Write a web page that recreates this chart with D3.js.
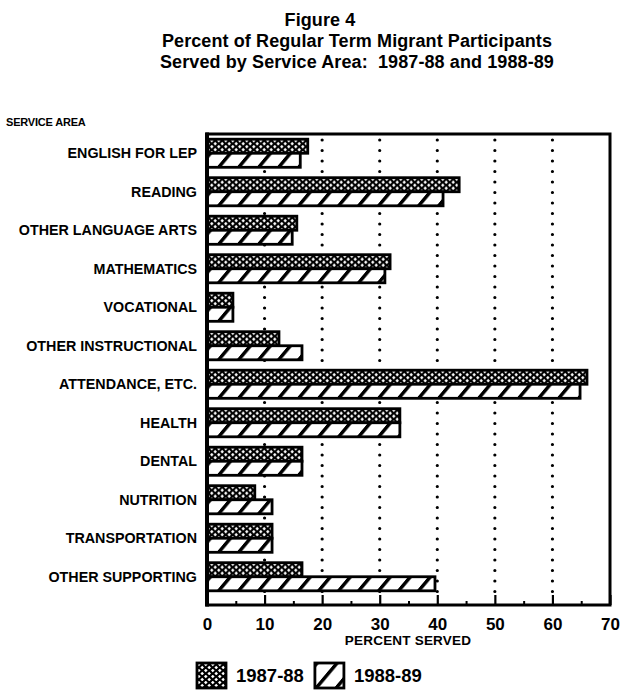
<!DOCTYPE html>
<html>
<head>
<meta charset="utf-8">
<script src="https://cdn.jsdelivr.net/npm/d3@7"></script>
<style>
  body { margin: 0; background: #fff; }
  text { font-family: "Liberation Sans", Arial, sans-serif; font-weight: bold; fill: #000; }
</style>
</head>
<body>
<div id="chart"></div>
<script>

// chart data
var titleLines = ["Figure 4",
                  "Percent of Regular Term Migrant Participants",
                  "Served by Service Area:  1987-88 and 1988-89"];
var categories = ["ENGLISH FOR LEP", "READING", "OTHER LANGUAGE ARTS", "MATHEMATICS",
                  "VOCATIONAL", "OTHER INSTRUCTIONAL", "ATTENDANCE, ETC.", "HEALTH",
                  "DENTAL", "NUTRITION", "TRANSPORTATION", "OTHER SUPPORTING"];
var served8788 = [17.5, 43.8, 15.6, 31.8, 4.5, 12.5, 66.0, 33.5, 16.5, 8.3, 11.3, 16.5];
var served8889 = [16.2, 41.0, 14.8, 30.9, 4.5, 16.5, 64.8, 33.5, 16.5, 11.3, 11.3, 39.6];
var seriesNames = ["1987-88", "1988-89"];
var xTicks = [0, 10, 20, 30, 40, 50, 60, 70];
var xMinorTicks = [5, 15, 25, 35, 45, 55, 65];

var width = 621,
    height = 693,
    plot = {left: 207, right: 610, top: 134, bandBottom: 596, bottom: 605},
    fills = ["url(#cross)", "url(#hatch)"];

var svg = d3.select("#chart").append("svg")
    .attr("width", width)
    .attr("height", height);

svg.append("rect").attr("width", width).attr("height", height).attr("fill", "#fff");

// patterns
var defs = svg.append("defs");

var cross = defs.append("pattern")
    .attr("id", "cross")
    .attr("patternUnits", "userSpaceOnUse")
    .attr("width", 7)
    .attr("height", 6);
cross.append("rect").attr("width", 7).attr("height", 6).attr("fill", "#000");
cross.append("path")
    .attr("d", "M1.75,-0.3L3.6,1.5L1.75,3.3L-0.1,1.5Z M5.25,2.7L7.1,4.5L5.25,6.3L3.4,4.5Z")
    .attr("fill", "#fff");

var hatch = defs.append("pattern")
    .attr("id", "hatch")
    .attr("patternUnits", "userSpaceOnUse")
    .attr("width", 20)
    .attr("height", 20)
    .attr("patternTransform", "skewX(-40)");
hatch.append("rect").attr("width", 20).attr("height", 20).attr("fill", "#fff");
hatch.append("rect").attr("width", 4.5).attr("height", 20).attr("fill", "#000");

// scales
var x = d3.scaleLinear().domain([0, 70]).range([plot.left, plot.right]);
var y = d3.scaleBand().domain(categories)
    .range([plot.top, plot.bandBottom])
    .paddingInner(0.27)
    .paddingOuter(0.135);
var ySub = d3.scaleBand().domain(seriesNames).range([0, y.bandwidth()]);

// title
svg.append("g").selectAll("text")
    .data(titleLines)
    .enter().append("text")
    .attr("x", function (d, i) { return i === 0 ? 320 : 357; })
    .attr("y", function (d, i) { return 26 + i * 21; })
    .attr("text-anchor", "middle")
    .style("font-size", "18px")
    .style("letter-spacing", "0.1px")
    .style("white-space", "pre")
    .text(function (d) { return d; });

svg.append("text")
    .attr("x", 6)
    .attr("y", 126)
    .style("font-size", "11px")
    .style("letter-spacing", "-0.2px")
    .text("SERVICE AREA");

// dotted grid
svg.append("g").selectAll("line")
    .data(xTicks.filter(function (d) { return d > 0 && d < 70; }))
    .enter().append("line")
    .attr("x1", x).attr("x2", x)
    .attr("y1", plot.top + 6)
    .attr("y2", plot.bottom - 4)
    .attr("stroke", "#000")
    .attr("stroke-width", 3.2)
    .attr("stroke-linecap", "round")
    .attr("stroke-dasharray", "0,10.5");

// bars
var rows = categories.map(function (c, i) {
    return {cat: c, values: [served8788[i], served8889[i]]};
});

var row = svg.append("g").selectAll("g")
    .data(rows)
    .enter().append("g")
    .attr("transform", function (d) { return "translate(0," + y(d.cat) + ")"; });

row.selectAll("rect")
    .data(function (d) { return d.values; })
    .enter().append("rect")
    .attr("x", x(0))
    .attr("y", function (d, i) { return ySub(seriesNames[i]); })
    .attr("width", function (d) { return x(d) - x(0); })
    .attr("height", ySub.bandwidth())
    .attr("fill", function (d, i) { return fills[i]; })
    .attr("stroke", "#000")
    .attr("stroke-width", 2.8);

// category labels
svg.append("g").selectAll("text")
    .data(categories)
    .enter().append("text")
    .attr("x", 197)
    .attr("y", function (d) { return y(d) + y.bandwidth() / 2; })
    .attr("dy", "0.36em")
    .attr("text-anchor", "end")
    .style("font-size", "14.3px")
    .text(function (d) { return d; });

// frame
svg.append("rect")
    .attr("x", plot.left)
    .attr("y", plot.top)
    .attr("width", plot.right - plot.left)
    .attr("height", plot.bottom - plot.top)
    .attr("fill", "none")
    .attr("stroke", "#000")
    .attr("stroke-width", 3);
svg.append("line")
    .attr("x1", plot.left).attr("x2", plot.left)
    .attr("y1", plot.top - 1.5).attr("y2", plot.bottom + 1.5)
    .attr("stroke", "#000")
    .attr("stroke-width", 4);

// x axis, ticks pointing up into the frame
var xAxis = svg.append("g")
    .attr("transform", "translate(0," + plot.bottom + ")")
    .call(d3.axisBottom(x).tickValues(xTicks).tickSize(-10).tickPadding(13));
xAxis.select(".domain").remove();
xAxis.selectAll("line").attr("stroke-width", 2.2);
xAxis.selectAll("text")
    .attr("fill", "#000")
    .style("font-family", "\"Liberation Sans\", Arial, sans-serif")
    .style("font-weight", "bold")
    .style("font-size", "17px");

var xMinor = svg.append("g")
    .attr("transform", "translate(0," + plot.bottom + ")")
    .call(d3.axisBottom(x).tickValues(xMinorTicks).tickSize(-4).tickFormat(""));
xMinor.select(".domain").remove();
xMinor.selectAll("line").attr("stroke-width", 2);

svg.append("text")
    .attr("x", 408)
    .attr("y", 645)
    .attr("text-anchor", "middle")
    .style("font-size", "13.5px")
    .style("letter-spacing", "0.2px")
    .text("PERCENT SERVED");

// legend
var legX = 197;
seriesNames.forEach(function (name, i) {
    var item = svg.append("g").attr("transform", "translate(" + legX + ",663)");
    item.append("rect")
        .attr("width", 29)
        .attr("height", 25)
        .attr("fill", fills[i])
        .attr("stroke", "#000")
        .attr("stroke-width", 2.8);
    var t = item.append("text")
        .attr("x", 39)
        .attr("y", 19)
        .style("font-size", "18.5px")
        .text(name);
    legX += 39 + t.node().getComputedTextLength() + 11;
});

</script>
</body>
</html>
